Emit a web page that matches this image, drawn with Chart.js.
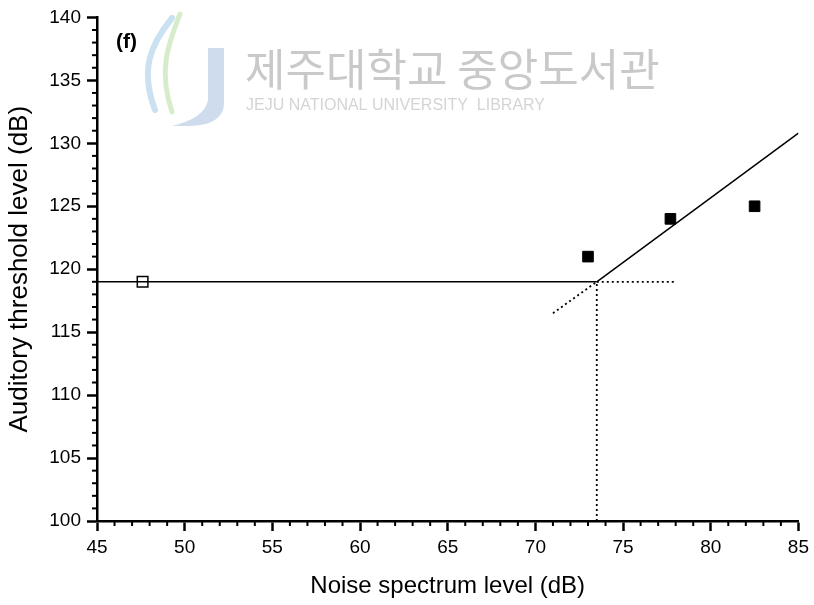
<!DOCTYPE html>
<html>
<head>
<meta charset="utf-8">
<script src="https://cdn.jsdelivr.net/npm/chart.js@4.4.0/dist/chart.umd.min.js"></script>
<style>
  html, body { margin: 0; padding: 0; background: #fff; }
  #wrap { width: 814px; height: 605px; }
</style>
</head>
<body>
<div id="wrap"><canvas id="thresholdChart" width="814" height="605"></canvas></div>
<script>
// measured thresholds
const quietX = [47.6];
const quietY = [119];
const noiseX = [73, 77.7, 82.5];
const noiseY = [121, 124, 125];

// fitted broken-stick lines (end points)
const flatLine = [[45, 119], [73.5, 119]];
const flatExt = [[73.5, 119], [78, 119]];
const slopeLine = [[73.5, 119], [85, 130.8]];
const slopeExt = [[71, 116.5], [73.5, 119]];
const kneeDrop = [[73.5, 100], [73.5, 119]];

const xTicks = [45, 50, 55, 60, 65, 70, 75, 80, 85];
const yTicks = [100, 105, 110, 115, 120, 125, 130, 135, 140];

const pts = (xs, ys) => xs.map((x, i) => ({ x: x, y: ys[i] }));
const seg = (p) => p.map(d => ({ x: d[0], y: d[1] }));

const lineDs = (data, dashed) => ({
    type: 'line',
    data: seg(data),
    borderColor: '#000',
    borderWidth: dashed ? 1.8 : 1.5,
    borderDash: dashed ? [2, 3] : [],
    pointRadius: 0,
    fill: false
});

// minor ticks + panel label + watermark
const extras = {
    id: 'extras',
    beforeDatasetsDraw(chart) {
        const ctx = chart.ctx;
        ctx.save();
        // watermark logo
        ctx.globalAlpha = 0.55;
        ctx.lineCap = 'round';
        ctx.strokeStyle = '#9ec9e8';
        ctx.lineWidth = 6;
        ctx.beginPath();
        ctx.moveTo(172, 18); ctx.bezierCurveTo(150, 45, 140, 70, 155, 110);
        ctx.stroke();
        ctx.strokeStyle = '#b7dca0';
        ctx.lineWidth = 5;
        ctx.beginPath();
        ctx.moveTo(180, 14); ctx.bezierCurveTo(168, 45, 158, 70, 172, 112);
        ctx.stroke();
        ctx.fillStyle = '#a7bfe0';
        ctx.beginPath();
        ctx.moveTo(208, 48); ctx.lineTo(224, 48); ctx.lineTo(224, 105);
        ctx.quadraticCurveTo(222, 125, 190, 126);
        ctx.lineTo(172, 126); ctx.quadraticCurveTo(205, 118, 208, 100);
        ctx.closePath();
        ctx.fill();
        ctx.globalAlpha = 1;
        ctx.fillStyle = '#c9c9c9';
        ctx.font = '44px "Noto Sans CJK KR"';
        ctx.textBaseline = 'alphabetic';
        ctx.fillText('제주대학교 중앙도서관', 245, 86);
        ctx.fillStyle = '#d4d4d4';
        ctx.font = '16px "Liberation Sans"';
        ctx.fillText('JEJU NATIONAL UNIVERSITY  LIBRARY', 246, 110);
        ctx.restore();
    },
    afterDraw(chart) {
        const ctx = chart.ctx;
        const xs = chart.scales.x, ys = chart.scales.y;
        const area = chart.chartArea;
        ctx.save();
        ctx.strokeStyle = '#000';
        ctx.lineWidth = 2;
        for (let v = xs.min; v <= xs.max; v++) {
            if (v % 5 === 0) continue;
            const px = xs.getPixelForValue(v);
            ctx.beginPath(); ctx.moveTo(px, area.bottom); ctx.lineTo(px, area.bottom + 5); ctx.stroke();
        }
        for (let v = ys.min; v <= ys.max; v++) {
            if (v % 5 === 0) continue;
            const py = ys.getPixelForValue(v);
            ctx.beginPath(); ctx.moveTo(area.left, py); ctx.lineTo(area.left - 5, py); ctx.stroke();
        }
        ctx.fillStyle = '#000';
        ctx.font = 'bold 21px "Liberation Sans"';
        ctx.textBaseline = 'middle';
        ctx.fillText('(f)', 116, 42);
        ctx.restore();
    }
};

const ctx = document.getElementById('thresholdChart').getContext('2d');
const myChart = new Chart(ctx, {
    type: 'scatter',
    data: {
        datasets: [
            lineDs(flatLine, false),
            lineDs(flatExt, true),
            lineDs(slopeLine, false),
            lineDs(slopeExt, true),
            lineDs(kneeDrop, true),
            {
                label: 'quiet',
                data: pts(quietX, quietY),
                pointStyle: 'rect',
                pointRadius: 7.5,
                backgroundColor: '#fff',
                borderColor: '#000',
                borderWidth: 1.5
            },
            {
                label: 'noise',
                data: pts(noiseX, noiseY),
                pointStyle: 'rect',
                pointRadius: 7.5,
                backgroundColor: '#000',
                borderColor: '#000',
                borderWidth: 1
            }
        ]
    },
    options: {
        responsive: false,
        animation: false,
        layout: { padding: { top: 17, right: 15, left: 0, bottom: 0 } },
        plugins: {
            legend: { display: false },
            tooltip: { enabled: false }
        },
        scales: {
            x: {
                type: 'linear',
                min: 45,
                max: 85,
                afterBuildTicks: (s) => { s.ticks = xTicks.map(v => ({ value: v })); },
                afterFit: (s) => { s.height = 84; },
                ticks: { color: '#000', font: { family: 'Liberation Sans', size: 19 }, padding: 5, maxRotation: 0 },
                grid: { drawOnChartArea: false, drawTicks: true, tickLength: 10, tickWidth: 2.5, tickColor: '#000' },
                border: { color: '#000', width: 2.5 },
                title: { display: true, text: 'Noise spectrum level (dB)', color: '#000', font: { family: 'Liberation Sans', size: 24 }, padding: { top: 8 } }
            },
            y: {
                type: 'linear',
                min: 100,
                max: 140,
                afterBuildTicks: (s) => { s.ticks = yTicks.map(v => ({ value: v })); },
                afterFit: (s) => { s.width = 97; },
                ticks: { color: '#000', font: { family: 'Liberation Sans', size: 19 }, padding: 6 },
                grid: { drawOnChartArea: false, drawTicks: true, tickLength: 10, tickWidth: 2.5, tickColor: '#000' },
                border: { color: '#000', width: 2.5 },
                title: { display: true, text: 'Auditory threshold level (dB)', color: '#000', font: { family: 'Liberation Sans', size: 26 }, padding: { top: 4, bottom: 4 } }
            }
        }
    },
    plugins: [extras]
});
</script>
</body>
</html>
